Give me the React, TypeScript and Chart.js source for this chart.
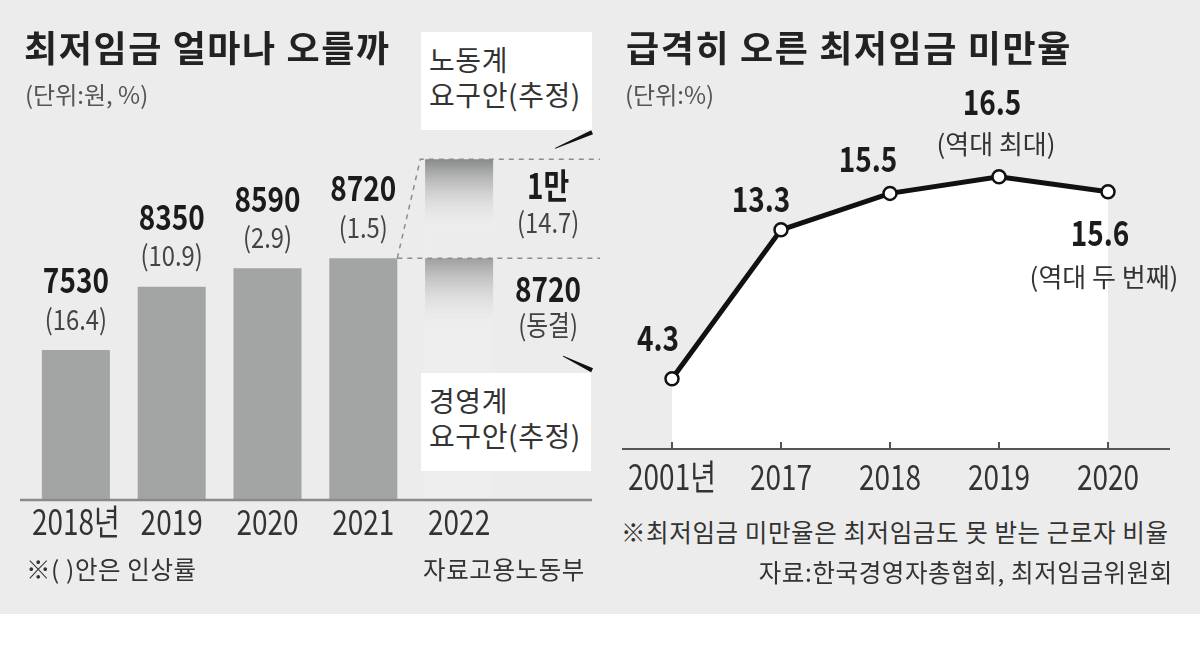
import React, { useEffect, useRef } from 'react';
import { Chart, registerables } from 'chart.js';

Chart.register(...registerables);

// ---------- data ----------
const wageYears = ['2018년', '2019', '2020', '2021', '2022'];
const wageValues = [7530, 8350, 8590, 8720, null];
const wageRaises = ['16.4', '10.9', '2.9', '1.5', ''];
const laborDemand = [null, null, null, null, 10000];
const employerDemand = [null, null, null, null, 8720];
const demandValueLabels = ['1만', '8720'];
const demandRateLabels = ['14.7', '동결'];

const shortfallYears = ['2001년', '2017', '2018', '2019', '2020'];
const shortfallRates = [4.3, 13.3, 15.5, 16.5, 15.6];
const shortfallNotes = ['', '', '', '역대 최대', '역대 두 번째'];

// ---------- styles ----------
const KR = "'Noto Sans CJK KR', 'Noto Sans', sans-serif";
const BG = '#ececec';
const BAR = '#a3a4a4';

// label placement for line points (value label offset, note offset)
const ratePlacement = [
  { dx: -14, dy: -41, ndx: 0, ndy: 0 },
  { dx: -20, dy: -31, ndx: 0, ndy: 0 },
  { dx: -22, dy: -35, ndx: 0, ndy: 0 },
  { dx: -7, dy: -75, ndx: -3, ndy: -33 },
  { dx: -8, dy: 41, ndx: -4, ndy: 85 },
];

// condensed text helper (the original uses a narrow newspaper face)
function ctext(ctx: CanvasRenderingContext2D, s: string, x: number, y: number, sx: number) {
  ctx.save();
  ctx.translate(x, y);
  ctx.scale(sx, 1);
  ctx.fillText(s, 0, 0);
  ctx.restore();
}

function wedge(ctx: CanvasRenderingContext2D, x1: number, y1: number, x2: number, y2: number, w1: number, w2: number) {
  const dx = x2 - x1, dy = y2 - y1, L = Math.hypot(dx, dy);
  const nx = -dy / L, ny = dx / L;
  ctx.beginPath();
  ctx.moveTo(x1 + (nx * w1) / 2, y1 + (ny * w1) / 2);
  ctx.lineTo(x2 + (nx * w2) / 2, y2 + (ny * w2) / 2);
  ctx.lineTo(x2 - (nx * w2) / 2, y2 - (ny * w2) / 2);
  ctx.lineTo(x1 - (nx * w1) / 2, y1 - (ny * w1) / 2);
  ctx.closePath();
  ctx.fill();
}

const fadeFill = (c: any) => {
  const chart = c.chart;
  if (!chart.chartArea || c.raw == null) return 'rgba(0,0,0,0)';
  const top = chart.scales.y.getPixelForValue(c.raw);
  const g = chart.ctx.createLinearGradient(0, top, 0, top + 66);
  g.addColorStop(0, 'rgba(136,137,137,1)');
  g.addColorStop(1, 'rgba(240,240,240,0.2)');
  return g;
};

function drawCategoryLabels(chart: any, baseline: number) {
  const { ctx, scales } = chart;
  const labels = chart.data.labels as string[];
  ctx.save();
  ctx.fillStyle = '#333';
  ctx.font = `35px ${KR}`;
  ctx.textAlign = 'center';
  ctx.textBaseline = 'alphabetic';
  labels.forEach((lab, i) => {
    ctext(ctx, lab, scales.x.getPixelForValue(i), baseline, 0.8);
  });
  ctx.restore();
}

const wagePlugin = {
  id: 'wageDecor',
  afterDatasetsDraw(chart: any) {
    const { ctx, chartArea, scales } = chart;
    const y = scales.y;
    const bars = chart.getDatasetMeta(0).data;
    const ghost = chart.getDatasetMeta(1).data[4];
    ctx.save();
    // baseline
    ctx.strokeStyle = '#8a8a8a';
    ctx.lineWidth = 2.5;
    ctx.beginPath();
    ctx.moveTo(chartArea.left - 8, chartArea.bottom);
    ctx.lineTo(chart.width - 8, chartArea.bottom);
    ctx.stroke();

    // value labels
    ctx.textAlign = 'center';
    ctx.textBaseline = 'middle';
    wageValues.forEach((v, i) => {
      if (v == null) return;
      const el = bars[i];
      ctx.fillStyle = '#1b1b1b';
      ctx.font = `bold 35px ${KR}`;
      ctext(ctx, String(v), el.x, el.y - 70, 0.8);
      ctx.fillStyle = '#444';
      ctx.font = `28px ${KR}`;
      ctext(ctx, `(${wageRaises[i]})`, el.x, el.y - 31, 0.85);
    });

    // dashed guides
    const last = bars[3];
    const right = last.x + last.width / 2;
    const yHigh = y.getPixelForValue(laborDemand[4] as number);
    const yLow = y.getPixelForValue(employerDemand[4] as number);
    ctx.strokeStyle = '#8d8d8d';
    ctx.lineWidth = 1.5;
    ctx.setLineDash([5, 5]);
    ctx.beginPath();
    ctx.moveTo(right, yLow);
    ctx.lineTo(right + 23, yHigh);
    ctx.lineTo(chart.width + 2, yHigh);
    ctx.moveTo(right, yLow);
    ctx.lineTo(chart.width + 2, yLow);
    ctx.stroke();
    ctx.setLineDash([]);

    // proposal labels
    const lx = ghost.x + 89;
    const tops = [yHigh, yLow];
    const offs = [[26, 63], [31, 67]];
    tops.forEach((t, k) => {
      ctx.fillStyle = '#1b1b1b';
      ctx.font = `bold 35px ${KR}`;
      ctext(ctx, demandValueLabels[k], lx, t + offs[k][0], 0.8);
      ctx.fillStyle = '#444';
      ctx.font = `28px ${KR}`;
      ctext(ctx, `(${demandRateLabels[k]})`, lx, t + offs[k][1], 0.85);
    });

    // callout pointers
    ctx.fillStyle = '#111';
    wedge(ctx, lx + 7, yHigh - 11, lx + 44, yHigh - 27, 0.8, 4.5);
    wedge(ctx, lx + 15, yLow + 98, lx + 44, yLow + 112, 0.8, 4.5);
    ctx.restore();

    drawCategoryLabels(chart, chartArea.bottom + 35);
  },
};

const ratePlugin = {
  id: 'rateDecor',
  afterDatasetsDraw(chart: any) {
    const { ctx, chartArea } = chart;
    const pts = chart.getDatasetMeta(0).data;
    ctx.save();
    ctx.strokeStyle = '#555';
    ctx.lineWidth = 2;
    ctx.beginPath();
    ctx.moveTo(chartArea.left + 4.5, chartArea.bottom - 1);
    ctx.lineTo(chartArea.right + 7.5, chartArea.bottom - 1);
    pts.forEach((p: any) => {
      ctx.moveTo(p.x, chartArea.bottom - 8);
      ctx.lineTo(p.x, chartArea.bottom - 1);
    });
    ctx.stroke();

    ctx.textAlign = 'center';
    ctx.textBaseline = 'middle';
    shortfallRates.forEach((v, i) => {
      const p = pts[i];
      const pl = ratePlacement[i];
      ctx.fillStyle = '#1b1b1b';
      ctx.font = `bold 35px ${KR}`;
      ctext(ctx, v.toFixed(1), p.x + pl.dx, p.y + pl.dy, 0.8);
      if (shortfallNotes[i]) {
        ctx.fillStyle = '#333';
        ctx.font = `26px ${KR}`;
        ctext(ctx, `(${shortfallNotes[i]})`, p.x + pl.ndx, p.y + pl.ndy, 1);
      }
    });
    ctx.restore();

    drawCategoryLabels(chart, chartArea.bottom + 40);
  },
};

const text = (extra: React.CSSProperties): React.CSSProperties => ({
  position: 'absolute',
  whiteSpace: 'nowrap',
  lineHeight: 1,
  fontFamily: KR,
  ...extra,
});

export default function App() {
  const leftRef = useRef<HTMLCanvasElement>(null);
  const rightRef = useRef<HTMLCanvasElement>(null);

  useEffect(() => {
    const left = new Chart(leftRef.current as HTMLCanvasElement, {
      type: 'bar',
      data: {
        labels: wageYears,
        datasets: [
          { data: wageValues as any, backgroundColor: BAR, grouped: false, categoryPercentage: 1, barPercentage: 0.71 },
          { data: laborDemand as any, backgroundColor: fadeFill, grouped: false, categoryPercentage: 1, barPercentage: 0.71 },
          { data: employerDemand as any, backgroundColor: fadeFill, grouped: false, categoryPercentage: 1, barPercentage: 0.71 },
        ],
      },
      options: {
        animation: false,
        responsive: false,
        layout: { padding: { left: 28, right: 93, top: 82, bottom: 60 } },
        plugins: { legend: { display: false }, tooltip: { enabled: false } },
        scales: {
          x: { display: false, offset: true },
          y: { display: false, min: 5590, max: 11000 },
        },
      },
      plugins: [wagePlugin],
    } as any);

    const right = new Chart(rightRef.current as HTMLCanvasElement, {
      type: 'line',
      data: {
        labels: shortfallYears,
        datasets: [
          {
            data: shortfallRates,
            borderColor: '#111',
            borderWidth: 5,
            fill: 'origin',
            backgroundColor: '#ffffff',
            tension: 0,
            pointRadius: 6.5,
            pointBackgroundColor: '#ffffff',
            pointBorderColor: '#111',
            pointBorderWidth: 2.5,
          },
        ],
      },
      options: {
        animation: false,
        responsive: false,
        layout: { padding: { left: 17.5, right: 37.5, top: 152, bottom: 60 } },
        plugins: { legend: { display: false }, tooltip: { enabled: false } },
        scales: {
          x: { display: false, offset: true },
          y: { display: false, min: 0, max: 18 },
        },
      },
      plugins: [ratePlugin],
    } as any);

    return () => {
      left.destroy();
      right.destroy();
    };
  }, []);

  const note: React.CSSProperties = { fontSize: 24.5, color: '#333', letterSpacing: 0.6 };

  return (
    <div style={{ position: 'absolute', left: 0, top: 0, width: 1200, height: 666, background: '#fff', overflow: 'hidden' }}>
      <div style={{ position: 'absolute', left: 0, top: 0, width: 1200, height: 614, background: BG }} />
      <canvas ref={leftRef} width={600} height={560} style={{ position: 'absolute', left: 0, top: 0, width: 600, height: 560 }} />
      <canvas ref={rightRef} width={600} height={510} style={{ position: 'absolute', left: 600, top: 0, width: 600, height: 510 }} />

      <div style={text({ left: 24, top: 28, fontSize: 36, fontWeight: 700, color: '#222', letterSpacing: 1.6 })}>최저임금 얼마나 오를까</div>
      <div style={text({ left: 25, top: 82, fontSize: 24, color: '#555' })}>(단위:원, %)</div>

      <div style={{ position: 'absolute', left: 421, top: 32, width: 171, height: 98, background: '#fff' }}>
        <div style={text({ left: 8, top: 10, fontSize: 28, color: '#333', lineHeight: '35px', letterSpacing: 0.6 })}>
          노동계
          <br />
          요구안(추정)
        </div>
      </div>
      <div style={{ position: 'absolute', left: 421, top: 373, width: 170, height: 98, background: '#fff' }}>
        <div style={text({ left: 8, top: 10, fontSize: 28, color: '#333', lineHeight: '35px', letterSpacing: 0.6 })}>
          경영계
          <br />
          요구안(추정)
        </div>
      </div>

      <div style={text({ left: 26, top: 557, ...note })}>※(&nbsp;)안은 인상률</div>
      <div style={text({ right: 1200 - 585, top: 557, ...note })}>자료고용노동부</div>

      <div style={text({ left: 626, top: 28, fontSize: 36, fontWeight: 700, color: '#222', letterSpacing: 1.6 })}>급격히 오른 최저임금 미만율</div>
      <div style={text({ left: 625, top: 82, fontSize: 24, color: '#555' })}>(단위:%)</div>

      <div style={text({ left: 621, top: 520, ...note })}>※최저임금 미만율은 최저임금도 못 받는 근로자 비율</div>
      <div style={text({ right: 1200 - 1173, top: 560, ...note })}>자료:한국경영자총협회, 최저임금위원회</div>
    </div>
  );
}
